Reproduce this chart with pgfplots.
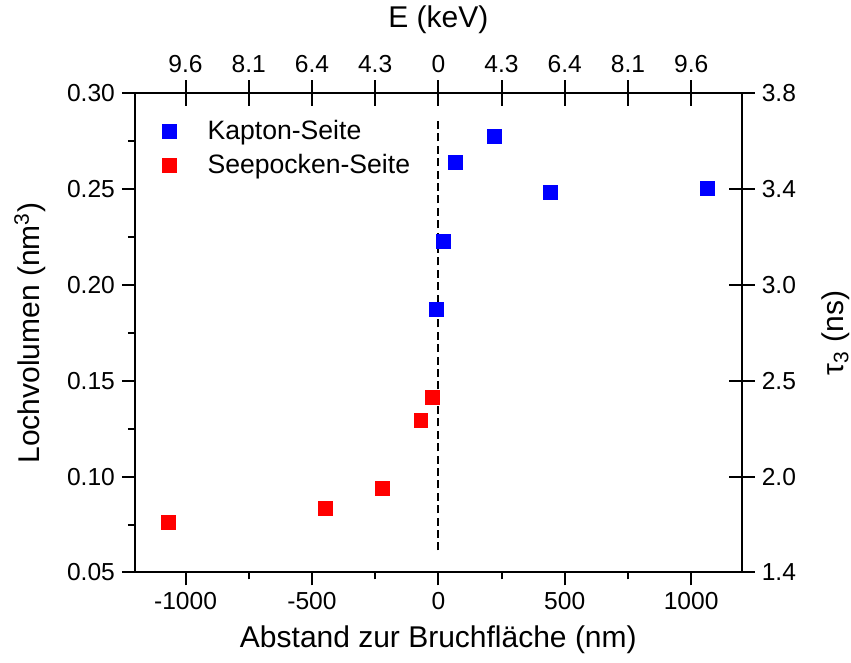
\documentclass[border=0pt]{standalone}
\usepackage{fontspec}
\setmainfont{Liberation Sans}
\usepackage{pgfplots}
\pgfplotsset{compat=1.18}
\begin{document}
\begin{tikzpicture}
\pgfplotsset{
 common/.style={scale only axis, width=303.5pt, height=239.7pt,
   xmin=-1200, xmax=1200, ymin=0.05, ymax=0.30,
   axis line style={line width=1pt},
   every tick/.style={line width=1pt, black},
   /pgf/number format/assume math mode=true,
   tick label style={font=\fontsize{12.3}{14}\selectfont},
   label style={font=\fontsize{15}{18}\selectfont}},
}
\begin{axis}[common, name=ax,
 axis x line*=bottom, axis y line*=left, tick align=outside,
 xtick={-1000,-500,0,500,1000}, xticklabels={-1000,-500,0,500,1000},
 minor xtick={-750,-250,250,750},
 ytick={0.05,0.10,0.15,0.20,0.25,0.30}, yticklabels={0.05,0.10,0.15,0.20,0.25,0.30},
 minor ytick={0.075,0.125,0.175,0.225,0.275},
 major tick length=6.5pt, minor tick length=3.5pt,
 xlabel={Abstand zur Bruchfläche (nm)}, ylabel={Lochvolumen (nm\textsuperscript{3})},
 xlabel style={at={(axis description cs:0.5,-0.140)}, anchor=center},
 ylabel style={at={(axis description cs:-0.173,0.5)}, anchor=center},
 legend cell align=left,
 legend image code/.code={\draw[#1] plot coordinates {(0pt,0pt)}; \path[draw=none] (-3.5pt,0pt) -- (17pt,0pt);},
 legend style={draw=none, fill=none, at={(axis description cs:0.035,0.961)}, anchor=north west,
   font=\fontsize{13.3}{16}\selectfont, row sep=2pt},
]
\addplot[black, line width=1pt, dash pattern=on 4pt off 2.2pt, forget plot] coordinates {(0,0.0615) (0,0.286)};
\addplot[only marks, mark=square*, mark size=3.5pt, color={rgb,255:red,0;green,0;blue,255}]
 coordinates {(-7,0.1874) (20,0.2225) (66,0.2639) (221,0.2777) (445,0.2483) (1066,0.2504)};
\addlegendentry{Kapton-Seite}
\addplot[only marks, mark=square*, mark size=3.5pt, color={rgb,255:red,255;green,0;blue,0}]
 coordinates {(-1068,0.0763) (-447,0.0836) (-223,0.0940) (-69,0.1296) (-23,0.1411)};
\addlegendentry{Seepocken-Seite}
\end{axis}
\begin{axis}[common,
 axis x line*=top, axis y line*=right, tick align=center, major tick length=13pt,
 xtick={-1000,-750,...,1000}, xticklabels={9.6,8.1,6.4,4.3,0,4.3,6.4,8.1,9.6},
 ytick={0.05,0.10,0.15,0.20,0.25,0.30}, yticklabels={1.4,2.0,2.5,3.0,3.4,3.8},
 minor tick num=0,
 xlabel={E (keV)}, ylabel={τ\textsubscript{3} (ns)},
 xlabel style={at={(axis description cs:0.5,1.153)}, anchor=center},
 ylabel style={at={(axis description cs:1.155,0.5)}, anchor=center},
]
\end{axis}
\pgfresetboundingbox
\path ([shift={(-67.5pt,-45.15pt)}]ax.south west) rectangle ([shift={(54.65pt,46.65pt)}]ax.north east);
\end{tikzpicture}
\end{document}
